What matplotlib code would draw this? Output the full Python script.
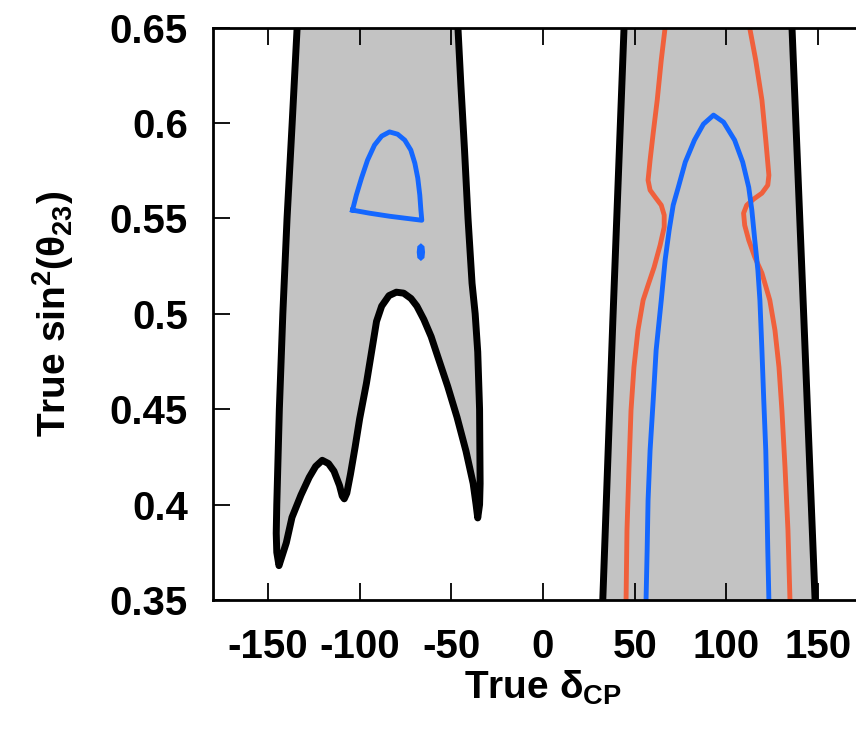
import matplotlib
matplotlib.use("Agg")
import matplotlib.pyplot as plt

# --- data (delta_CP in degrees, sin^2 theta23) ---
# left grey region, outline (open at the top of the frame)
left_x = [-133.9, -134.1, -136.8, -139.6, -141.9, -143.8, -145.2, -145.5, -145.2, -144.0,
          -140.0, -136.9, -132.0, -127.5, -124.0, -120.4, -117.0, -114.0, -111.0,
          -109.5, -108.4, -107.0, -105.0, -102.5, -100.0, -96.3, -93.0, -90.8,
          -88.0, -84.0, -80.0, -76.0, -72.0, -68.8, -65.0, -61.0, -57.9, -52.0,
          -46.9, -42.0, -38.1, -36.5, -35.6, -34.6, -34.3, -34.6, -35.6, -37.0,
          -38.7, -40.9, -42.8, -44.8, -46.4, -46.6]
left_y = [0.67, 0.65, 0.60, 0.55, 0.50, 0.45, 0.40, 0.385, 0.375, 0.368,
          0.380, 0.3933, 0.405, 0.4143, 0.420, 0.4232, 0.4215, 0.4175, 0.410,
          0.4045, 0.4030, 0.406, 0.416, 0.430, 0.445, 0.4636, 0.483, 0.4960,
          0.5040, 0.5095, 0.5113, 0.5108, 0.5080, 0.5040, 0.497, 0.488, 0.4790, 0.462,
          0.4458, 0.428, 0.4111, 0.400, 0.393, 0.400, 0.411, 0.45, 0.48, 0.50,
          0.516, 0.55, 0.5857, 0.62, 0.65, 0.67]

# right grey band, left and right edges
band_y = [0.67, 0.65, 0.4966, 0.35, 0.33]
band_lo = [45.2, 44.2, 38.1, 32.6, 31.8]
band_hi = [135.0, 135.8, 142.3, 148.4, 149.3]

# red contour, two branches
red1_x = [66.6, 64.5, 62.3, 60.1, 58.4, 57.3, 58.4, 61.2, 64.5, 66.1, 66.1, 63.9,
          60.6, 57.3, 54.6, 51.8, 49.6, 48.0, 46.9, 45.8, 45.3]
red1_y = [0.65, 0.6330, 0.6120, 0.5947, 0.5805, 0.5700, 0.5648, 0.5611, 0.5569, 0.5517,
          0.5454, 0.5360, 0.5244, 0.5150, 0.5071, 0.4914, 0.4720, 0.4494, 0.4195, 0.3865, 0.35]
red2_x = [112.7, 116.0, 119.4, 121.5, 123.2, 122.6, 119.4, 114.9, 111.1, 109.4, 110.0,
          112.2, 115.5, 119.4, 123.7, 126.5, 128.7, 130.3, 132.0, 133.6, 134.7]
red2_y = [0.65, 0.6330, 0.6120, 0.5910, 0.5726, 0.5674, 0.5632, 0.5601, 0.5569, 0.5527,
          0.5464, 0.5386, 0.5297, 0.5213, 0.5071, 0.4914, 0.4720, 0.4494, 0.4195, 0.3865, 0.35]

# blue contours
blue_x = [56.2, 56.8, 57.3, 58.4, 60.1, 61.7, 64.5, 66.6, 68.8, 71.0, 73.8, 77.6, 82.6,
          87.5, 93.0, 98.5, 104.5, 108.9, 112.2, 113.9, 115.5, 117.2, 118.3, 119.4,
          120.4, 121.5, 122.1, 122.6, 123.2]
blue_y = [0.35, 0.3760, 0.4022, 0.4284, 0.4547, 0.4809, 0.5071, 0.5281, 0.5438, 0.5569,
          0.5663, 0.5795, 0.5910, 0.5994, 0.6041, 0.6004, 0.5910, 0.5795, 0.5663, 0.5543,
          0.5386, 0.5228, 0.5071, 0.4809, 0.4547, 0.4284, 0.4022, 0.3760, 0.35]
tri_x = [-103.9, -101.8, -99.0, -95.7, -91.9, -88.0, -83.7, -79.3, -75.4, -72.1, -69.9,
         -68.3, -67.2, -66.6, -66.1, -75.4, -83.7, -94.6, -103.9]
tri_y = [0.5543, 0.5622, 0.5711, 0.5805, 0.5884, 0.5931, 0.5953, 0.5941, 0.5910, 0.5858,
         0.5789, 0.5711, 0.5622, 0.5543, 0.5490, 0.5501, 0.5511, 0.5527, 0.5543]
dot_x = [-66.6, -65.4, -65.1, -65.4, -66.6, -67.8, -68.1, -67.8]
dot_y = [0.5360, 0.5350, 0.5323, 0.5296, 0.5286, 0.5296, 0.5323, 0.5350]

xticks = [-150, -100, -50, 0, 50, 100, 150]
yticks = [0.35, 0.4, 0.45, 0.5, 0.55, 0.6, 0.65]
ytick_labels = ['0.35', '0.4', '0.45', '0.5', '0.55', '0.6', '0.65']

grey = '#c3c3c3'
blue = '#1467ff'
red = '#f0603c'

plt.rcParams['font.family'] = ['Liberation Sans', 'DejaVu Sans']
plt.rcParams['font.weight'] = 'bold'
plt.rcParams['mathtext.fontset'] = 'custom'
plt.rcParams['mathtext.rm'] = 'Liberation Sans:bold'
plt.rcParams['mathtext.it'] = 'Liberation Sans:bold'
plt.rcParams['mathtext.bf'] = 'Liberation Sans:bold'

fig = plt.figure(figsize=(8.56, 7.36), dpi=100)
# axes run past the right edge, as in the cropped original
ax = fig.add_axes([0.2488, 0.1848, 0.7711, 0.7778])

ax.fill(left_x, left_y, color=grey, lw=0)
ax.plot(left_x, left_y, color='black', lw=5, solid_joinstyle='round')

ax.fill_betweenx(band_y, band_lo, band_hi, color=grey, lw=0)
ax.plot(band_lo, band_y, color='black', lw=5)
ax.plot(band_hi, band_y, color='black', lw=5)

ax.plot(red1_x, red1_y, color=red, lw=3.5, solid_joinstyle='round')
ax.plot(red2_x, red2_y, color=red, lw=3.5, solid_joinstyle='round')

ax.plot(blue_x, blue_y, color=blue, lw=3.5, solid_joinstyle='round')
ax.plot(tri_x, tri_y, color=blue, lw=3.5, solid_joinstyle='round')
ax.fill(dot_x, dot_y, color=blue, lw=2)

ax.set_xlim(-180, 180)
ax.set_ylim(0.35, 0.65)
ax.set_xticks(xticks)
ax.set_xticklabels([str(t) for t in xticks])
ax.set_yticks(yticks)
ax.set_yticklabels(ytick_labels)
ax.tick_params(direction='in', length=12, width=1.3, top=True, right=True,
               labelsize=29, pad=18)
ax.tick_params(axis='x', pad=20)
for s in ax.spines.values():
    s.set_linewidth(2)

ax.set_xlabel(r'True $\delta_{CP}$', fontsize=28, fontweight='bold', labelpad=2)
ax.set_ylabel(r'True sin$^2$($\theta_{23}$)', fontsize=28, fontweight='bold', labelpad=24)

plt.savefig('out.png', dpi=100)
